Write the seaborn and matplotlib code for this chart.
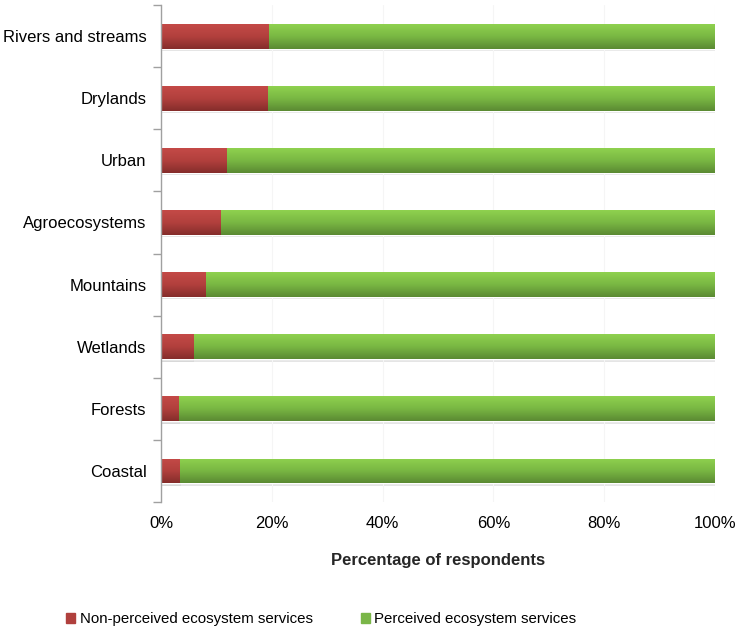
import numpy as np
import pandas as pd
import seaborn as sns
import matplotlib.pyplot as plt
from matplotlib.colors import LinearSegmentedColormap
from matplotlib.patches import Patch

# data
habitats = ["Rivers and streams", "Drylands", "Urban", "Agroecosystems",
            "Mountains", "Wetlands", "Forests", "Coastal"]
non_perceived = [19.5, 19.3, 11.9, 10.7, 8.1, 5.8, 3.2, 3.4]
perceived = [100 - v for v in non_perceived]

df = pd.DataFrame({"habitat": habitats,
                   "non_perceived": non_perceived,
                   "total": [a + b for a, b in zip(non_perceived, perceived)]})

sns.set_style("white")
plt.rcParams['font.family'] = ['Liberation Sans', 'DejaVu Sans']
plt.rcParams['text.color'] = 'black'
plt.rcParams['xtick.color'] = 'black'
plt.rcParams['ytick.color'] = 'black'

fig = plt.figure(figsize=(7.4, 6.32), dpi=100)
ax = fig.add_axes([0.2176, 0.2057, 0.966 - 0.2176, 0.992 - 0.2057])

# green (perceived) drawn as full bar, red stacked on the left
sns.barplot(data=df, y="habitat", x="total", color="#7ab648", width=0.4,
            orient="h", ax=ax, saturation=1)
sns.barplot(data=df, y="habitat", x="non_perceived", color="#b0403d", width=0.4,
            orient="h", ax=ax, saturation=1)

# gradient overlay on each bar (light top, dark bottom)
green_cmap = LinearSegmentedColormap.from_list("g", ["#8fd14f", "#79b743", "#5b8a33"])
red_cmap = LinearSegmentedColormap.from_list("r", ["#c44a47", "#b2403d", "#852d2b"])
grad = np.linspace(0, 1, 64).reshape(-1, 1)
n = len(habitats)
patches = list(ax.patches)
for i, p in enumerate(patches):
    cmap = green_cmap if i < n else red_cmap
    x0, y0 = p.get_x(), p.get_y()
    w, h = p.get_width(), p.get_height()
    # faint shadow under bar
    ax.add_patch(plt.Rectangle((x0 + 0.2, y0 + 0.04), w, h, color="#cccccc",
                               alpha=0.5, zorder=p.get_zorder() - 0.5, lw=0))
    im = ax.imshow(grad, extent=(x0, x0 + w, y0 + h, y0), origin="upper",
                   aspect="auto", cmap=cmap, zorder=p.get_zorder() + 0.1,
                   interpolation="bilinear")
    im.set_clip_path(p)

ax.set_xlim(0, 100)
ax.set_ylim(n - 0.5, -0.5)

# axes styling
for s in ["top", "right", "bottom"]:
    ax.spines[s].set_visible(False)
ax.spines["left"].set_color("#a0a0a0")
ax.spines["left"].set_linewidth(1.0)

ax.set_xticks([0, 20, 40, 60, 80, 100])
ax.set_xticklabels(["0%", "20%", "40%", "60%", "80%", "100%"])
ax.tick_params(axis="x", length=0, labelsize=12, pad=10)
ax.set_yticks(range(n))
ax.set_yticklabels(habitats)
ax.tick_params(axis="y", which="major", left=False, length=0, labelleft=True,
               labelsize=12, pad=10.5)
ax.set_yticks(np.arange(-0.5, n, 1), minor=True)
ax.tick_params(axis="y", which="minor", left=True, length=6,
               color="#a0a0a0", width=1)

ax.xaxis.grid(True, color="#f5f5f5", lw=0.8)
ax.set_axisbelow(True)

ax.set_ylabel("")
ax.set_xlabel("Percentage of respondents", fontweight="bold", fontsize=12,
              labelpad=16)

handles = [Patch(color="#b0403d", label="Non-perceived ecosystem services"),
           Patch(color="#7ab648", label="Perceived ecosystem services")]
fig.legend(handles=handles, loc="lower center", bbox_to_anchor=(0.434, -0.012),
           ncol=2, frameon=False, fontsize=10.8, handlelength=0.6,
           handleheight=0.7, handletextpad=0.3, columnspacing=3.2)

fig.savefig("out.png", dpi=100)
